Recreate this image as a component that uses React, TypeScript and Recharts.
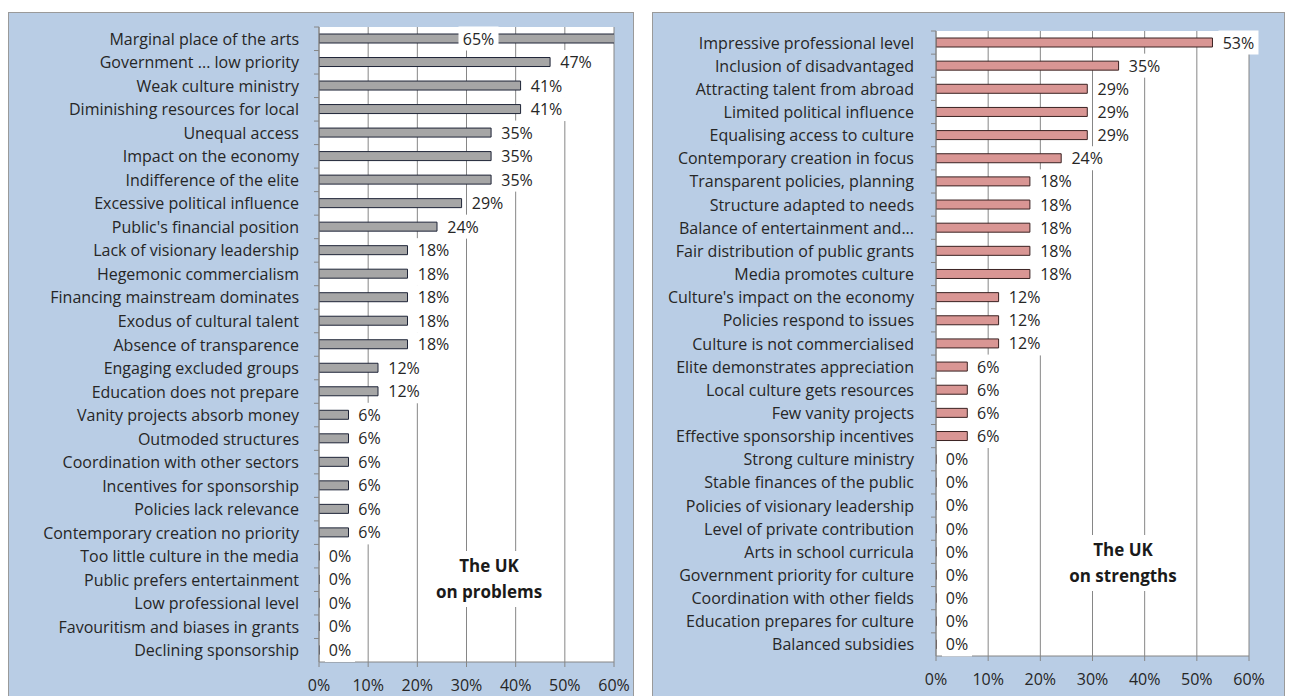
import React from "react";
import { BarChart, Bar, XAxis, YAxis, CartesianGrid, LabelList } from "recharts";

const problemLabels = [
  "Marginal place of the arts",
  "Government ... low priority",
  "Weak culture ministry",
  "Diminishing resources for local",
  "Unequal access",
  "Impact on the economy",
  "Indifference of the elite",
  "Excessive political influence",
  "Public's financial position",
  "Lack of visionary leadership",
  "Hegemonic commercialism",
  "Financing mainstream dominates",
  "Exodus of cultural talent",
  "Absence of transparence",
  "Engaging excluded groups",
  "Education does not prepare",
  "Vanity projects absorb money",
  "Outmoded structures",
  "Coordination with other sectors",
  "Incentives for sponsorship",
  "Policies lack relevance",
  "Contemporary creation no priority",
  "Too little culture in the media",
  "Public prefers entertainment",
  "Low professional level",
  "Favouritism and biases in grants",
  "Declining sponsorship",
];
const problemValues = [65, 47, 41, 41, 35, 35, 35, 29, 24, 18, 18, 18, 18, 18, 12, 12, 6, 6, 6, 6, 6, 6, 0, 0, 0, 0, 0];

const strengthLabels = [
  "Impressive professional level",
  "Inclusion of disadvantaged",
  "Attracting talent from abroad",
  "Limited political influence",
  "Equalising access to culture",
  "Contemporary creation in focus",
  "Transparent policies, planning",
  "Structure adapted to needs",
  "Balance of entertainment and...",
  "Fair distribution of public grants",
  "Media promotes culture",
  "Culture's impact on the economy",
  "Policies respond to issues",
  "Culture is not commercialised",
  "Elite demonstrates appreciation",
  "Local culture gets resources",
  "Few vanity projects",
  "Effective sponsorship incentives",
  "Strong culture ministry",
  "Stable finances of the public",
  "Policies of visionary leadership",
  "Level of private contribution",
  "Arts in school curricula",
  "Government priority for culture",
  "Coordination with other fields",
  "Education prepares for culture",
  "Balanced subsidies",
];
const strengthValues = [53, 35, 29, 29, 29, 24, 18, 18, 18, 18, 18, 12, 12, 12, 6, 6, 6, 6, 0, 0, 0, 0, 0, 0, 0, 0, 0];

const xTicks = [0, 10, 20, 30, 40, 50, 60];

const FONT = "'Open Sans', 'Noto Sans', sans-serif";
const GRID = "#868686";
const PANEL_BG = "#b9cde5";
const FS = 16;

const problemData = problemLabels.map((name, i) => ({ name, value: problemValues[i] }));
const strengthData = strengthLabels.map((name, i) => ({ name, value: strengthValues[i] }));

const makeTick = (gap: number) => (props: any) => {
  const { x, y, payload } = props;
  const off = payload && payload.offset ? payload.offset : 0;
  const ax = x + gap;
  return (
    <g>
      <text x={x} y={y} textAnchor="end" dominantBaseline="central" fontSize={FS} fill="#262626" fontFamily={FONT}>
        {payload.value}
      </text>
      <line x1={ax - 5} x2={ax} y1={y - off} y2={y - off} stroke={GRID} />
    </g>
  );
};

const BarLabel = (props: any) => {
  const { x, y, width, height, value } = props;
  const text = `${value}%`;
  const tw = text.length * 10;
  let cx: number;
  if (value > 60) {
    // bar runs past the axis end: label sits on the visible part
    const visible = (width * 60) / value;
    cx = x + visible / 2 + 12;
  } else {
    cx = x + width + 11 + tw / 2;
  }
  const cy = y + height / 2;
  return (
    <g>
      <rect x={cx - tw / 2 - 5} y={cy - 12} width={tw + 10} height={24} fill="#fff" />
      <text x={cx} y={cy} textAnchor="middle" dominantBaseline="central" fontSize={FS} fill="#262626" fontFamily={FONT}>
        {text}
      </text>
    </g>
  );
};

interface PanelProps {
  left: number;
  width: number;
  data: { name: string; value: number }[];
  yWidth: number;
  gap: number;
  margin: { top: number; right: number; left: number; bottom: number };
  fill: string;
  stroke: string;
  title: string[];
  titleX: number;
  titleY: number;
}

const Panel: React.FC<PanelProps> = ({ left, width, data, yWidth, gap, margin, fill, stroke, title, titleX, titleY }) => (
  <div
    style={{
      position: "absolute",
      left,
      top: 12,
      width,
      height: 684,
      background: PANEL_BG,
      border: "1px solid #9a9a9a",
      borderBottom: "none",
      boxSizing: "border-box",
    }}
  >
    <BarChart width={width - 2} height={684} data={data} layout="vertical" margin={margin} barSize={9}>
      <CartesianGrid horizontal={false} stroke={GRID} fill="#fff" />
      <XAxis
        type="number"
        domain={[0, 60]}
        ticks={xTicks}
        allowDataOverflow
        tickFormatter={(v) => `${v}%`}
        tick={{ fontSize: FS, fill: "#262626", fontFamily: FONT }}
        stroke={GRID}
        tickSize={5}
        tickMargin={13}
        height={30}
      />
      <YAxis
        type="category"
        dataKey="name"
        width={yWidth}
        interval={0}
        tickSize={0}
        tickMargin={gap}
        tick={makeTick(gap)}
        stroke={GRID}
      />
      <Bar dataKey="value" fill={fill} stroke={stroke} strokeWidth={1} minPointSize={0.01} isAnimationActive={false}>
        <LabelList dataKey="value" content={BarLabel} />
      </Bar>
    </BarChart>
    <div
      style={{
        position: "absolute",
        left: titleX - 64,
        top: titleY,
        width: 128,
        background: "#fff",
        textAlign: "center",
        fontFamily: FONT,
        fontWeight: 700,
        fontSize: 17,
        lineHeight: "26px",
        color: "#1a1a1a",
        padding: "2px 0",
      }}
    >
      {title.map((t) => (
        <div key={t}>{t}</div>
      ))}
    </div>
  </div>
);

export default function App() {
  return (
    <div>
      <Panel
        left={8}
        width={626}
        data={problemData}
        yWidth={310}
        gap={20}
        margin={{ top: 14, right: 19, left: 0, bottom: 5 }}
        fill="#a6a6a6"
        stroke="#1f2538"
        title={["The UK", "on problems"]}
        titleX={480}
        titleY={538}
      />
      <Panel
        left={652}
        width={633}
        data={strengthData}
        yWidth={283}
        gap={22}
        margin={{ top: 18, right: 35, left: 0, bottom: 11 }}
        fill="#d99694"
        stroke="#3a2222"
        title={["The UK", "on strengths"]}
        titleX={470}
        titleY={522}
      />
    </div>
  );
}
